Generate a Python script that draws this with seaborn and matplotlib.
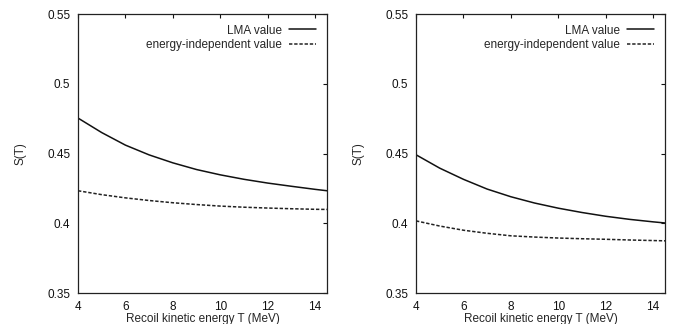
import matplotlib
matplotlib.use("Agg")
import matplotlib.pyplot as plt
import seaborn as sns
import pandas as pd

T = [4, 5, 6, 7, 8, 9, 10, 11, 12, 13, 14, 14.5]
left_lma = [0.4754, 0.4650, 0.4560, 0.4490, 0.4433, 0.4385, 0.4347, 0.4315, 0.4288, 0.4265, 0.4243, 0.4233]
left_const = [0.4233, 0.4205, 0.4182, 0.4163, 0.4147, 0.4134, 0.4123, 0.4115, 0.4109, 0.4104, 0.4100, 0.4099]
right_lma = [0.4491, 0.4395, 0.4315, 0.4245, 0.4190, 0.4145, 0.4108, 0.4077, 0.4050, 0.4028, 0.4010, 0.4002]
right_const = [0.4017, 0.3980, 0.3950, 0.3928, 0.3910, 0.3901, 0.3894, 0.3889, 0.3885, 0.3880, 0.3876, 0.3874]

labels = ["LMA value", "energy-independent value"]
xticks = [4, 6, 8, 10, 12, 14]
yticks = [0.35, 0.4, 0.45, 0.5, 0.55]
yticklabels = ["0.35", "0.4", "0.45", "0.5", "0.55"]

sns.set_theme(style="white")
plt.rcParams["font.family"] = ["Liberation Sans", "DejaVu Sans"]

fig = plt.figure(figsize=(6.76, 3.24), dpi=100)
axes = [fig.add_axes([78/676, 31/324, 249/676, 279/324]),
        fig.add_axes([416/676, 31/324, 249/676, 279/324])]

FS = 8.5
for ax, lma, const in zip(axes, [left_lma, right_lma], [left_const, right_const]):
    df = pd.DataFrame({"T": T + T, "S": lma + const,
                       "series": [labels[0]] * len(T) + [labels[1]] * len(T)})
    sns.lineplot(data=df, x="T", y="S", hue="series", style="series",
                 palette=["#111111", "#222222"], dashes=[(None, None), (2.2, 1.2)],
                 linewidth=1.1, ax=ax, legend=True)
    ax.set_xlim(4, 14.5)
    ax.set_ylim(0.35, 0.55)
    ax.set_xticks(xticks)
    ax.set_yticks(yticks)
    ax.set_yticklabels(yticklabels)
    ax.tick_params(direction="in", length=3, width=0.8, top=True, right=True,
                   labelsize=FS, colors="#111111", pad=5.5)
    for s in ax.spines.values():
        s.set_color("#222222")
        s.set_linewidth(0.9)
    ax.set_xlabel("Recoil kinetic energy T (MeV)", fontsize=FS, labelpad=0)
    ax.set_ylabel("S(T)", fontsize=FS, labelpad=15)
    h, l = ax.get_legend_handles_labels()
    leg = ax.legend(h, l, loc="upper right", frameon=False, fontsize=FS,
                    markerfirst=False, handlelength=2.3, handletextpad=0.6,
                    labelspacing=0.2, borderaxespad=0.5, alignment="right")
    for t in leg.get_texts():
        t.set_ha("right")

fig.savefig("out.png", dpi=100)
